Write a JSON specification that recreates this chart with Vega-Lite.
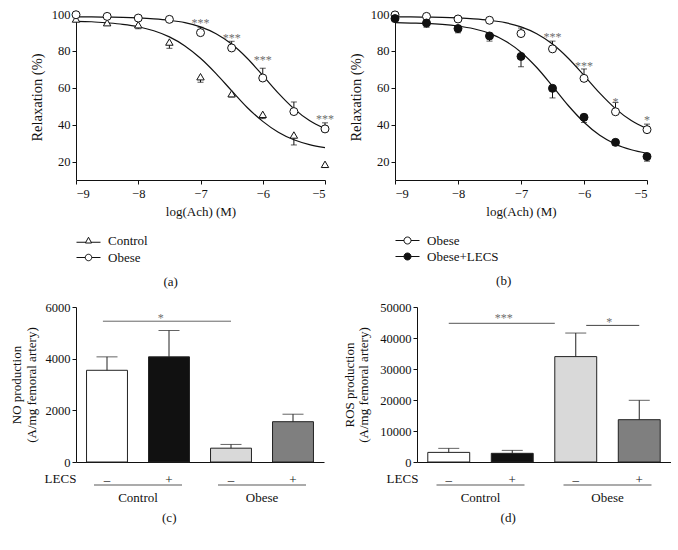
{
  "$schema": "https://vega.github.io/schema/vega-lite/v6.json",
  "background": "white",
  "padding": {"left": 10, "top": 8, "right": 0, "bottom": 0},
  "config": {
    "font": "Liberation Serif",
    "view": {"stroke": null},
    "axis": {"labelFont": "Liberation Serif", "titleFont": "Liberation Serif", "labelFontSize": 12.5, "titleFontSize": 13, "titleFontWeight": "normal", "labelColor": "#111", "titleColor": "#111", "domainColor": "#111", "tickColor": "#111", "grid": false, "tickSize": 4, "labelPadding": 2, "labelOverlap": false},
    "legend": {"labelFont": "Liberation Serif", "labelFontSize": 13, "labelColor": "#111", "padding": 0},
    "title": {"font": "Liberation Serif", "fontSize": 13, "fontWeight": "normal", "color": "#111"},
    "text": {"font": "Liberation Serif"}
  },
  "datasets": {
    "curveA": [
      {"series": "Control", "logAch": -9, "relax": 96.0}, {"series": "Control", "logAch": -8.75, "relax": 95.8}, {"series": "Control", "logAch": -8.5, "relax": 95.2}, {"series": "Control", "logAch": -8.25, "relax": 94.4}, {"series": "Control", "logAch": -8, "relax": 93.1}, {"series": "Control", "logAch": -7.75, "relax": 90.9}, {"series": "Control", "logAch": -7.5, "relax": 87.6}, {"series": "Control", "logAch": -7.25, "relax": 82.7}, {"series": "Control", "logAch": -7, "relax": 76.0}, {"series": "Control", "logAch": -6.75, "relax": 67.7}, {"series": "Control", "logAch": -6.5, "relax": 58.4}, {"series": "Control", "logAch": -6.25, "relax": 49.3}, {"series": "Control", "logAch": -6, "relax": 41.8}, {"series": "Control", "logAch": -5.75, "relax": 35.9}, {"series": "Control", "logAch": -5.5, "relax": 31.8}, {"series": "Control", "logAch": -5.25, "relax": 29.2}, {"series": "Control", "logAch": -5, "relax": 27.6},
      {"series": "Obese", "logAch": -9, "relax": 98.4}, {"series": "Obese", "logAch": -8.75, "relax": 98.4}, {"series": "Obese", "logAch": -8.5, "relax": 98.3}, {"series": "Obese", "logAch": -8.25, "relax": 98.2}, {"series": "Obese", "logAch": -8, "relax": 97.9}, {"series": "Obese", "logAch": -7.75, "relax": 97.4}, {"series": "Obese", "logAch": -7.5, "relax": 96.6}, {"series": "Obese", "logAch": -7.25, "relax": 95.3}, {"series": "Obese", "logAch": -7, "relax": 93.0}, {"series": "Obese", "logAch": -6.75, "relax": 89.3}, {"series": "Obese", "logAch": -6.5, "relax": 83.7}, {"series": "Obese", "logAch": -6.25, "relax": 76.0}, {"series": "Obese", "logAch": -6, "relax": 66.7}, {"series": "Obese", "logAch": -5.75, "relax": 57.1}, {"series": "Obese", "logAch": -5.5, "relax": 48.7}, {"series": "Obese", "logAch": -5.25, "relax": 42.2}, {"series": "Obese", "logAch": -5, "relax": 37.8}
    ],
    "curveB": [
      {"series": "Obese", "logAch": -9, "relax": 98.4}, {"series": "Obese", "logAch": -8.75, "relax": 98.4}, {"series": "Obese", "logAch": -8.5, "relax": 98.3}, {"series": "Obese", "logAch": -8.25, "relax": 98.2}, {"series": "Obese", "logAch": -8, "relax": 97.9}, {"series": "Obese", "logAch": -7.75, "relax": 97.4}, {"series": "Obese", "logAch": -7.5, "relax": 96.6}, {"series": "Obese", "logAch": -7.25, "relax": 95.3}, {"series": "Obese", "logAch": -7, "relax": 93.0}, {"series": "Obese", "logAch": -6.75, "relax": 89.3}, {"series": "Obese", "logAch": -6.5, "relax": 83.7}, {"series": "Obese", "logAch": -6.25, "relax": 76.0}, {"series": "Obese", "logAch": -6, "relax": 66.7}, {"series": "Obese", "logAch": -5.75, "relax": 57.1}, {"series": "Obese", "logAch": -5.5, "relax": 48.7}, {"series": "Obese", "logAch": -5.25, "relax": 42.2}, {"series": "Obese", "logAch": -5, "relax": 37.8},
      {"series": "Obese+LECS", "logAch": -9, "relax": 95.3}, {"series": "Obese+LECS", "logAch": -8.75, "relax": 95.1}, {"series": "Obese+LECS", "logAch": -8.5, "relax": 94.9}, {"series": "Obese+LECS", "logAch": -8.25, "relax": 94.4}, {"series": "Obese+LECS", "logAch": -8, "relax": 93.5}, {"series": "Obese+LECS", "logAch": -7.75, "relax": 92.0}, {"series": "Obese+LECS", "logAch": -7.5, "relax": 89.5}, {"series": "Obese+LECS", "logAch": -7.25, "relax": 85.4}, {"series": "Obese+LECS", "logAch": -7, "relax": 79.3}, {"series": "Obese+LECS", "logAch": -6.75, "relax": 71.0}, {"series": "Obese+LECS", "logAch": -6.5, "relax": 60.9}, {"series": "Obese+LECS", "logAch": -6.25, "relax": 50.4}, {"series": "Obese+LECS", "logAch": -6, "relax": 41.3}, {"series": "Obese+LECS", "logAch": -5.75, "relax": 34.2}, {"series": "Obese+LECS", "logAch": -5.5, "relax": 29.4}, {"series": "Obese+LECS", "logAch": -5.25, "relax": 26.4}, {"series": "Obese+LECS", "logAch": -5, "relax": 24.5}
    ],
    "ptsA": [
      {"series": "Control", "logAch": -9, "mean": 97.3, "errEnd": 96.2}, {"series": "Control", "logAch": -8.5, "mean": 95.3, "errEnd": 94.6}, {"series": "Control", "logAch": -8, "mean": 94.2, "errEnd": 92.0}, {"series": "Control", "logAch": -7.5, "mean": 84.8, "errEnd": 81.4}, {"series": "Control", "logAch": -7, "mean": 66.0, "errEnd": 63.0}, {"series": "Control", "logAch": -6.5, "mean": 56.8, "errEnd": 55.0}, {"series": "Control", "logAch": -6, "mean": 45.6, "errEnd": 43.3}, {"series": "Control", "logAch": -5.5, "mean": 34.4, "errEnd": 29.0}, {"series": "Control", "logAch": -5, "mean": 18.5, "errEnd": 16.8},
      {"series": "Obese", "logAch": -9, "mean": 99.6, "errEnd": 99.6}, {"series": "Obese", "logAch": -8.5, "mean": 98.7, "errEnd": 98.7}, {"series": "Obese", "logAch": -8, "mean": 97.8, "errEnd": 98.6}, {"series": "Obese", "logAch": -7.5, "mean": 97.1, "errEnd": 98.5}, {"series": "Obese", "logAch": -7, "mean": 89.9, "errEnd": 92.8}, {"series": "Obese", "logAch": -6.5, "mean": 81.6, "errEnd": 85.2}, {"series": "Obese", "logAch": -6, "mean": 65.3, "errEnd": 70.6}, {"series": "Obese", "logAch": -5.5, "mean": 47.1, "errEnd": 52.3}, {"series": "Obese", "logAch": -5, "mean": 37.7, "errEnd": 41.0}
    ],
    "ptsB": [
      {"series": "Obese", "logAch": -9, "mean": 99.5, "errEnd": 99.5}, {"series": "Obese", "logAch": -8.5, "mean": 98.7, "errEnd": 98.7}, {"series": "Obese", "logAch": -8, "mean": 97.3, "errEnd": 98.0}, {"series": "Obese", "logAch": -7.5, "mean": 96.6, "errEnd": 98.0}, {"series": "Obese", "logAch": -7, "mean": 89.4, "errEnd": 92.4}, {"series": "Obese", "logAch": -6.5, "mean": 81.1, "errEnd": 85.3}, {"series": "Obese", "logAch": -6, "mean": 65.1, "errEnd": 70.2}, {"series": "Obese", "logAch": -5.5, "mean": 47.0, "errEnd": 52.0}, {"series": "Obese", "logAch": -5, "mean": 37.3, "errEnd": 40.3},
      {"series": "Obese+LECS", "logAch": -9, "mean": 97.5, "errEnd": 96.5}, {"series": "Obese+LECS", "logAch": -8.5, "mean": 95.1, "errEnd": 92.8}, {"series": "Obese+LECS", "logAch": -8, "mean": 92.1, "errEnd": 89.8}, {"series": "Obese+LECS", "logAch": -7.5, "mean": 88.1, "errEnd": 85.3}, {"series": "Obese+LECS", "logAch": -7, "mean": 77.0, "errEnd": 71.4}, {"series": "Obese+LECS", "logAch": -6.5, "mean": 59.7, "errEnd": 54.5}, {"series": "Obese+LECS", "logAch": -6, "mean": 44.0, "errEnd": 41.2}, {"series": "Obese+LECS", "logAch": -5.5, "mean": 30.4, "errEnd": 28.8}, {"series": "Obese+LECS", "logAch": -5, "mean": 22.7, "errEnd": 20.2}
    ],
    "starsA": [
      {"logAch": -7, "pos": 95.3, "stars": "***"}, {"logAch": -6.5, "pos": 87.2, "stars": "***"}, {"logAch": -6, "pos": 74.9, "stars": "***"}, {"logAch": -5, "pos": 43.0, "stars": "***"}
    ],
    "starsB": [
      {"logAch": -6.5, "pos": 87.8, "stars": "***"}, {"logAch": -6, "pos": 71.6, "stars": "***"}, {"logAch": -5.5, "pos": 52.2, "stars": "*"}, {"logAch": -5, "pos": 42.5, "stars": "*"}
    ],
    "barsC": [
      {"bar": "Control –", "value": 3550, "errTop": 4070}, {"bar": "Control +", "value": 4070, "errTop": 5090}, {"bar": "Obese –", "value": 535, "errTop": 680}, {"bar": "Obese +", "value": 1560, "errTop": 1850}
    ],
    "barsD": [
      {"bar": "Control –", "value": 3100, "errTop": 4400}, {"bar": "Control +", "value": 2800, "errTop": 3750}, {"bar": "Obese –", "value": 34000, "errTop": 41600}, {"bar": "Obese +", "value": 13650, "errTop": 19900}
    ],
    "sigC": [{"from": "Control –", "to": "Obese –", "at": "Control +", "level": 5450, "stars": "*"}],
    "sigD1": [{"from": "Control –", "to": "Obese –", "at": "Control +", "level": 44710, "stars": "***"}],
    "sigD2": [{"from": "Obese –", "to": "Obese +", "at": "Obese –", "level": 44065, "stars": "*"}],
    "groups": [{"group": "Control"}, {"group": "Obese"}]
  },
  "spacing": 12,
  "resolve": {"scale": {"x": "independent", "y": "independent", "fill": "independent", "stroke": "independent"}, "legend": {"fill": "independent", "stroke": "independent"}},
  "vconcat": [
    {
      "spacing": 14,
      "resolve": {"scale": {"x": "independent", "y": "independent", "fill": "independent", "stroke": "independent"}, "legend": {"fill": "independent", "stroke": "independent"}},
      "hconcat": [
        {
          "width": 249, "height": 166,
          "title": {"text": "(a)", "orient": "bottom", "anchor": "middle", "frame": "bounds", "offset": 11, "dx": -11},
          "layer": [
            {"data": {"name": "curveA"}, "mark": {"type": "line", "interpolate": "monotone", "color": "#111", "strokeWidth": 1.2},
             "encoding": {
               "x": {"field": "logAch", "type": "quantitative", "scale": {"domain": [-9, -5], "nice": false}, "axis": {"title": "log(Ach) (M)", "values": [-9, -8, -7, -6, -5], "tickCount": 5, "format": "d", "labelPadding": 3, "titlePadding": 6}},
               "y": {"field": "relax", "type": "quantitative", "scale": {"domain": [10, 100], "nice": false, "zero": false}, "axis": {"title": "Relaxation (%)", "values": [20, 40, 60, 80, 100], "tickCount": 5, "titlePadding": 7, "titleFontSize": 14.5}},
               "detail": {"field": "series"}}},
            {"data": {"name": "ptsA"}, "mark": {"type": "rule", "color": "#111", "strokeWidth": 1},
             "encoding": {"x": {"field": "logAch", "type": "quantitative"}, "y": {"field": "mean", "type": "quantitative"}, "y2": {"field": "errEnd"}}},
            {"data": {"name": "ptsA"}, "mark": {"type": "tick", "orient": "horizontal", "size": 6, "thickness": 1, "color": "#111"},
             "encoding": {"x": {"field": "logAch", "type": "quantitative"}, "y": {"field": "errEnd", "type": "quantitative"}}},
            {"data": {"name": "ptsA"}, "transform": [{"filter": "datum.series === 'Control'"}],
             "mark": {"type": "point", "shape": "triangle-up", "filled": true, "stroke": "#111", "strokeWidth": 1, "size": 55, "opacity": 1},
             "encoding": {"x": {"field": "logAch", "type": "quantitative"}, "y": {"field": "mean", "type": "quantitative"},
               "fill": {"field": "series", "type": "nominal", "scale": {"domain": ["Control"], "range": ["white"]},
                 "legend": {"orient": "none", "legendX": 6, "legendY": 220, "title": null, "symbolSize": 100, "labelOffset": 13, "symbolStrokeColor": "#111", "symbolStrokeWidth": 1,
                   "symbolType": "M-2.4,0.35H-0.52M0.52,0.35H2.4M0,-0.65L0.62,0.5L-0.62,0.5Z"}}}},
            {"data": {"name": "ptsA"}, "transform": [{"filter": "datum.series === 'Obese'"}],
             "mark": {"type": "point", "shape": "circle", "filled": true, "fill": "white", "strokeWidth": 1, "size": 64, "opacity": 1},
             "encoding": {"x": {"field": "logAch", "type": "quantitative"}, "y": {"field": "mean", "type": "quantitative"},
               "stroke": {"field": "series", "type": "nominal", "scale": {"domain": ["Obese"], "range": ["#111"]},
                 "legend": {"orient": "none", "legendX": 6, "legendY": 237, "title": null, "symbolSize": 100, "labelOffset": 13, "symbolFillColor": "white", "symbolStrokeWidth": 1,
                   "symbolType": "M-2.4,0H-0.65M0.65,0H2.4M0.65,0A0.65,0.65,0,1,1,-0.65,0A0.65,0.65,0,1,1,0.65,0Z"}}}},
            {"data": {"name": "starsA"}, "mark": {"type": "text", "color": "#6e6e6e", "fontSize": 12, "baseline": "middle"},
             "encoding": {"x": {"field": "logAch", "type": "quantitative"}, "y": {"field": "pos", "type": "quantitative"}, "text": {"field": "stars"}}}
          ]
        },
        {
          "width": 252, "height": 166,
          "title": {"text": "(b)", "orient": "bottom", "anchor": "middle", "frame": "bounds", "offset": 11, "dx": 3},
          "layer": [
            {"data": {"name": "curveB"}, "mark": {"type": "line", "interpolate": "monotone", "color": "#111", "strokeWidth": 1.2},
             "encoding": {
               "x": {"field": "logAch", "type": "quantitative", "scale": {"domain": [-9, -5], "nice": false}, "axis": {"title": "log(Ach) (M)", "values": [-9, -8, -7, -6, -5], "tickCount": 5, "format": "d", "labelPadding": 3, "titlePadding": 6}},
               "y": {"field": "relax", "type": "quantitative", "scale": {"domain": [10, 100], "nice": false, "zero": false}, "axis": {"title": "Relaxation (%)", "values": [20, 40, 60, 80, 100], "tickCount": 5, "titlePadding": 7, "titleFontSize": 14.5}},
               "detail": {"field": "series"}}},
            {"data": {"name": "ptsB"}, "mark": {"type": "rule", "color": "#111", "strokeWidth": 1},
             "encoding": {"x": {"field": "logAch", "type": "quantitative"}, "y": {"field": "mean", "type": "quantitative"}, "y2": {"field": "errEnd"}}},
            {"data": {"name": "ptsB"}, "mark": {"type": "tick", "orient": "horizontal", "size": 6, "thickness": 1, "color": "#111"},
             "encoding": {"x": {"field": "logAch", "type": "quantitative"}, "y": {"field": "errEnd", "type": "quantitative"}}},
            {"data": {"name": "ptsB"}, "mark": {"type": "point", "filled": true, "stroke": "#111", "strokeWidth": 1, "size": 64, "opacity": 1, "shape": "circle"},
             "encoding": {"x": {"field": "logAch", "type": "quantitative"}, "y": {"field": "mean", "type": "quantitative"},
               "fill": {"field": "series", "type": "nominal", "scale": {"domain": ["Obese", "Obese+LECS"], "range": ["white", "#111"]},
                 "legend": {"orient": "none", "legendX": 6, "legendY": 220, "title": null, "symbolSize": 100, "labelOffset": 13, "rowPadding": 2, "symbolStrokeColor": "#111", "symbolStrokeWidth": 1,
                   "symbolType": "M-2.4,0H-0.7M0.7,0H2.4M0.7,0A0.7,0.7,0,1,1,-0.7,0A0.7,0.7,0,1,1,0.7,0Z"}}}},
            {"data": {"name": "starsB"}, "mark": {"type": "text", "color": "#6e6e6e", "fontSize": 12, "baseline": "middle"},
             "encoding": {"x": {"field": "logAch", "type": "quantitative"}, "y": {"field": "pos", "type": "quantitative"}, "text": {"field": "stars"}}}
          ]
        }
      ]
    },
    {
      "spacing": 19,
      "resolve": {"scale": {"x": "independent", "y": "independent", "fill": "independent"}},
      "hconcat": [
        {
          "width": 248, "height": 155,
          "title": {"text": "(c)", "orient": "bottom", "anchor": "middle", "frame": "bounds", "offset": 7, "dx": 2},
          "resolve": {"scale": {"x": "independent"}, "axis": {"x": "independent"}},
          "layer": [
            {"layer": [
              {"data": {"name": "barsC"}, "mark": {"type": "bar", "stroke": "#222", "strokeWidth": 1},
               "encoding": {
                 "x": {"field": "bar", "type": "nominal", "sort": null, "scale": {"domain": ["Control –", "Control +", "Obese –", "Obese +"], "paddingInner": 0.34, "paddingOuter": 0.17},
                   "axis": {"title": "LECS", "labelExpr": "split(datum.label, ' ')[1]", "ticks": false, "tickSize": 0, "labelPadding": 17, "labelBaseline": "middle", "labelAngle": 0, "labelFontSize": 13, "titleX": -16, "titleY": 20, "titleAlign": "center", "titleBaseline": "alphabetic", "titleAnchor": "start"}},
                 "y": {"field": "value", "type": "quantitative", "scale": {"domain": [0, 6000], "nice": false}, "axis": {"title": ["NO production", "(A/mg femoral artery)"], "values": [0, 2000, 4000, 6000], "tickCount": 4, "format": "d", "titlePadding": 7, "titleLineHeight": 14.5}},
                 "fill": {"field": "bar", "type": "nominal", "scale": {"domain": ["Control –", "Control +", "Obese –", "Obese +"], "range": ["white", "#111", "#d9d9d9", "#7f7f7f"]}, "legend": null}}},
              {"data": {"name": "barsC"}, "mark": {"type": "rule", "color": "#222", "strokeWidth": 1},
               "encoding": {"x": {"field": "bar", "type": "nominal"}, "y": {"field": "value", "type": "quantitative"}, "y2": {"field": "errTop"}}},
              {"data": {"name": "barsC"}, "mark": {"type": "tick", "orient": "horizontal", "size": 21, "thickness": 1, "color": "#222"},
               "encoding": {"x": {"field": "bar", "type": "nominal"}, "y": {"field": "errTop", "type": "quantitative"}}},
              {"data": {"name": "sigC"}, "mark": {"type": "rule", "color": "#666", "strokeWidth": 1},
               "encoding": {"x": {"field": "from", "type": "nominal", "bandPosition": 0.4}, "x2": {"field": "to"}, "y": {"field": "level", "type": "quantitative"}}},
              {"data": {"name": "sigC"}, "mark": {"type": "text", "color": "#6e6e6e", "fontSize": 12, "baseline": "middle", "dy": -3},
               "encoding": {"x": {"field": "at", "type": "nominal", "bandPosition": 0.3}, "y": {"field": "level", "type": "quantitative"}, "text": {"field": "stars"}}}
            ]},
            {"data": {"name": "groups"}, "layer": [
              {"mark": {"type": "tick", "orient": "horizontal", "size": 88, "thickness": 1, "color": "#111", "yOffset": 23},
               "encoding": {"x": {"field": "group", "type": "nominal", "scale": {"domain": ["Control", "Obese"], "paddingInner": 0, "paddingOuter": 0}, "axis": null}, "y": {"datum": 0}}},
              {"mark": {"type": "text", "dy": 36, "fontSize": 13, "baseline": "middle", "color": "#111"},
               "encoding": {"x": {"field": "group", "type": "nominal", "scale": {"domain": ["Control", "Obese"], "paddingInner": 0, "paddingOuter": 0}, "axis": null}, "y": {"datum": 0}, "text": {"field": "group"}}}
            ]}
          ]
        },
        {
          "width": 254, "height": 155,
          "title": {"text": "(d)", "orient": "bottom", "anchor": "middle", "frame": "bounds", "offset": 7, "dx": 1},
          "resolve": {"scale": {"x": "independent"}, "axis": {"x": "independent"}},
          "layer": [
            {"layer": [
              {"data": {"name": "barsD"}, "mark": {"type": "bar", "stroke": "#222", "strokeWidth": 1},
               "encoding": {
                 "x": {"field": "bar", "type": "nominal", "sort": null, "scale": {"domain": ["Control –", "Control +", "Obese –", "Obese +"], "paddingInner": 0.34, "paddingOuter": 0.17},
                   "axis": {"title": "LECS", "labelExpr": "split(datum.label, ' ')[1]", "ticks": false, "tickSize": 0, "labelPadding": 17, "labelBaseline": "middle", "labelAngle": 0, "labelFontSize": 13, "titleX": -15, "titleY": 20, "titleAlign": "center", "titleBaseline": "alphabetic", "titleAnchor": "start"}},
                 "y": {"field": "value", "type": "quantitative", "scale": {"domain": [0, 50000], "nice": false}, "axis": {"title": ["ROS production", "(A/mg femoral artery)"], "values": [0, 10000, 20000, 30000, 40000, 50000], "tickCount": 6, "format": "d", "labelOverlap": false, "titlePadding": 9, "titleLineHeight": 14.5}},
                 "fill": {"field": "bar", "type": "nominal", "scale": {"domain": ["Control –", "Control +", "Obese –", "Obese +"], "range": ["white", "#111", "#d9d9d9", "#7f7f7f"]}, "legend": null}}},
              {"data": {"name": "barsD"}, "mark": {"type": "rule", "color": "#222", "strokeWidth": 1},
               "encoding": {"x": {"field": "bar", "type": "nominal"}, "y": {"field": "value", "type": "quantitative"}, "y2": {"field": "errTop"}}},
              {"data": {"name": "barsD"}, "mark": {"type": "tick", "orient": "horizontal", "size": 21, "thickness": 1, "color": "#222"},
               "encoding": {"x": {"field": "bar", "type": "nominal"}, "y": {"field": "errTop", "type": "quantitative"}}},
              {"data": {"name": "sigD1"}, "mark": {"type": "rule", "color": "#777", "strokeWidth": 1.2},
               "encoding": {"x": {"field": "from", "type": "nominal"}, "x2": {"field": "to", "bandPosition": 0}, "y": {"field": "level", "type": "quantitative"}}},
              {"data": {"name": "sigD1"}, "mark": {"type": "text", "color": "#6e6e6e", "fontSize": 12, "baseline": "middle", "dy": -5.5},
               "encoding": {"x": {"field": "at", "type": "nominal", "bandPosition": 0.3}, "y": {"field": "level", "type": "quantitative"}, "text": {"field": "stars"}}},
              {"data": {"name": "sigD2"}, "mark": {"type": "rule", "color": "#444", "strokeWidth": 1},
               "encoding": {"x": {"field": "from", "type": "nominal", "bandPosition": 0.75}, "x2": {"field": "to"}, "y": {"field": "level", "type": "quantitative"}}},
              {"data": {"name": "sigD2"}, "mark": {"type": "text", "color": "#6e6e6e", "fontSize": 12, "baseline": "middle", "dy": -3},
               "encoding": {"x": {"field": "at", "type": "nominal", "bandPosition": 1.3}, "y": {"field": "level", "type": "quantitative"}, "text": {"field": "stars"}}}
            ]},
            {"data": {"name": "groups"}, "layer": [
              {"mark": {"type": "tick", "orient": "horizontal", "size": 88, "thickness": 1, "color": "#111", "yOffset": 23},
               "encoding": {"x": {"field": "group", "type": "nominal", "scale": {"domain": ["Control", "Obese"], "paddingInner": 0, "paddingOuter": 0}, "axis": null}, "y": {"datum": 0}}},
              {"mark": {"type": "text", "dy": 36, "fontSize": 13, "baseline": "middle", "color": "#111"},
               "encoding": {"x": {"field": "group", "type": "nominal", "scale": {"domain": ["Control", "Obese"], "paddingInner": 0, "paddingOuter": 0}, "axis": null}, "y": {"datum": 0}, "text": {"field": "group"}}}
            ]}
          ]
        }
      ]
    }
  ]
}
